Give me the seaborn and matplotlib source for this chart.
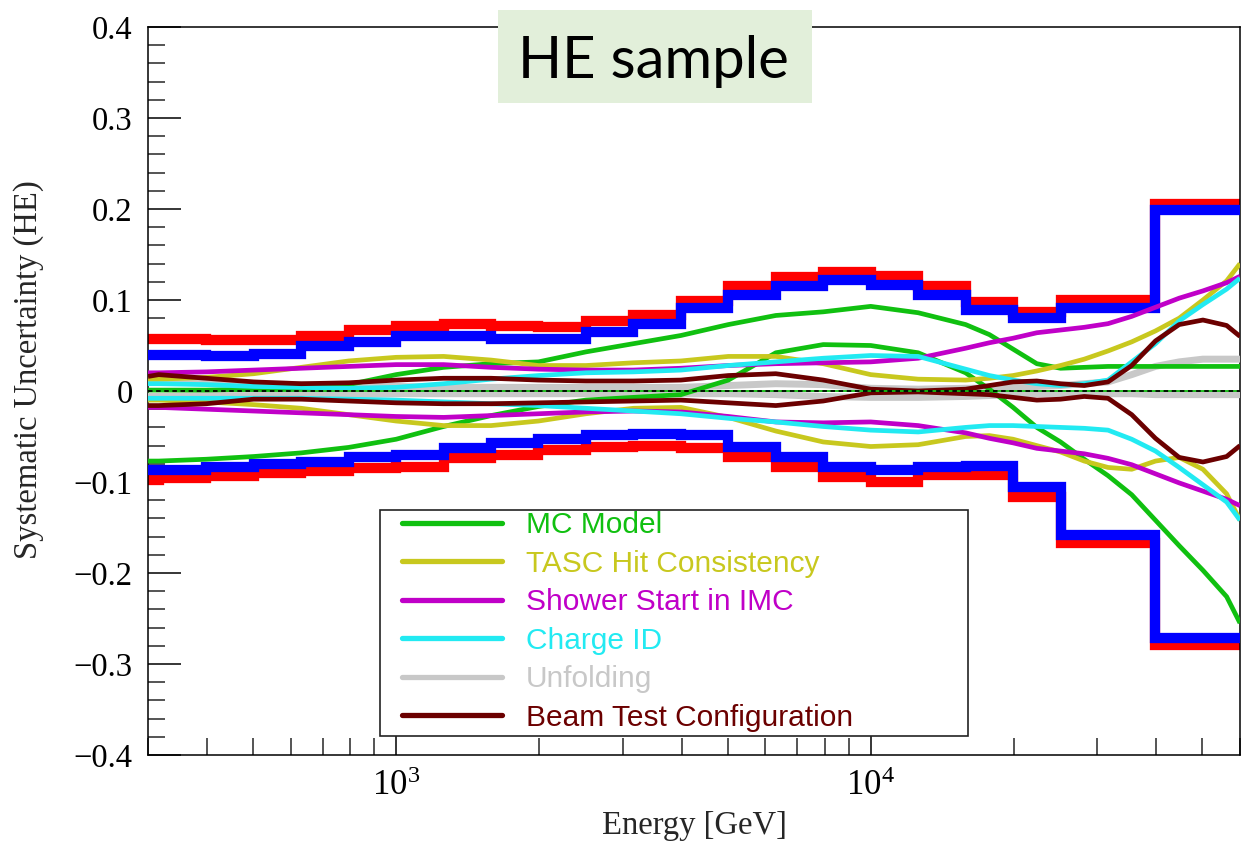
import matplotlib
matplotlib.use("Agg")
import matplotlib.pyplot as plt
from matplotlib.patches import Rectangle
from matplotlib.lines import Line2D
from matplotlib.ticker import LogLocator, MultipleLocator, FuncFormatter, NullFormatter
import seaborn as sns

# ---------------- data ----------------
# Binned total systematic bands (step histograms)
BIN_EDGES = [300, 316, 398, 501, 631, 794, 1000, 1259, 1585, 1995, 2512, 3162,
             3981, 5012, 6310, 7943, 10000, 12589, 15849, 19953, 25119, 39811, 63096]
RED_UPPER = [0.057, 0.057, 0.056, 0.056, 0.060, 0.067, 0.071, 0.074, 0.071, 0.070, 0.077,
             0.084, 0.099, 0.115, 0.125, 0.131, 0.126, 0.115, 0.098, 0.087, 0.100, 0.205]
BLUE_UPPER = [0.040, 0.040, 0.039, 0.041, 0.049, 0.054, 0.060, 0.060, 0.057, 0.057, 0.065,
              0.074, 0.091, 0.105, 0.115, 0.122, 0.116, 0.105, 0.089, 0.080, 0.091, 0.199]
BLUE_LOWER = [-0.087, -0.087, -0.083, -0.080, -0.078, -0.073, -0.070, -0.063, -0.057, -0.053, -0.048,
              -0.047, -0.048, -0.061, -0.072, -0.083, -0.087, -0.083, -0.082, -0.105, -0.158, -0.271]
RED_LOWER = [-0.098, -0.096, -0.093, -0.090, -0.088, -0.085, -0.083, -0.074, -0.070, -0.065, -0.062,
             -0.060, -0.063, -0.073, -0.084, -0.095, -0.100, -0.092, -0.092, -0.116, -0.167, -0.279]

# Smooth systematic curves sampled at these energies [GeV]
ENERGY = [300, 316, 398, 501, 631, 794, 1000, 1259, 1585, 1995, 2512, 3162, 3981, 5012,
          6310, 7943, 10000, 12589, 15849, 17783, 19953, 22387, 25119, 28184, 31623,
          35481, 39811, 44668, 50119, 56234, 60000]

MC_UP = [0.001, 0.001, 0.001, 0.002, 0.003, 0.007, 0.018, 0.026, 0.030, 0.032, 0.043, 0.052,
         0.061, 0.073, 0.083, 0.087, 0.093, 0.086, 0.073, 0.062, 0.046, 0.030, 0.025, 0.026,
         0.027, 0.027, 0.027, 0.027, 0.027, 0.027, 0.027]
MC_LO = [-0.077, -0.077, -0.075, -0.072, -0.068, -0.062, -0.053, -0.039, -0.027, -0.017, -0.010,
         -0.007, -0.004, 0.012, 0.042, 0.051, 0.050, 0.042, 0.020, 0.002, -0.018, -0.040, -0.056,
         -0.075, -0.093, -0.114, -0.142, -0.170, -0.197, -0.226, -0.255]
TASC_UP = [0.013, 0.013, 0.015, 0.019, 0.026, 0.033, 0.037, 0.038, 0.034, 0.028, 0.028, 0.031,
           0.033, 0.038, 0.038, 0.030, 0.018, 0.013, 0.012, 0.014, 0.017, 0.022, 0.028, 0.035,
           0.044, 0.054, 0.066, 0.080, 0.100, 0.121, 0.140]
TASC_LO = [-0.010, -0.010, -0.012, -0.015, -0.019, -0.026, -0.033, -0.038, -0.038, -0.033, -0.025,
           -0.019, -0.018, -0.029, -0.044, -0.056, -0.061, -0.059, -0.050, -0.049, -0.053, -0.060,
           -0.067, -0.077, -0.084, -0.086, -0.077, -0.073, -0.086, -0.113, -0.142]
SHOWER_UP = [0.020, 0.020, 0.021, 0.023, 0.025, 0.027, 0.029, 0.029, 0.026, 0.024, 0.023, 0.023,
             0.025, 0.028, 0.030, 0.031, 0.032, 0.036, 0.047, 0.053, 0.058, 0.064, 0.067, 0.070,
             0.074, 0.082, 0.092, 0.102, 0.110, 0.119, 0.126]
SHOWER_LO = [-0.018, -0.018, -0.020, -0.022, -0.024, -0.026, -0.028, -0.029, -0.027, -0.025, -0.023,
             -0.022, -0.023, -0.028, -0.034, -0.035, -0.034, -0.038, -0.046, -0.052, -0.057, -0.063,
             -0.066, -0.069, -0.074, -0.081, -0.091, -0.101, -0.110, -0.119, -0.126]
CHARGE_UP = [0.008, 0.008, 0.007, 0.005, 0.004, 0.003, 0.004, 0.008, 0.013, 0.017, 0.020, 0.021,
             0.023, 0.028, 0.032, 0.036, 0.039, 0.038, 0.024, 0.017, 0.012, 0.008, 0.006, 0.008,
             0.012, 0.032, 0.052, 0.077, 0.095, 0.112, 0.124]
CHARGE_LO = [-0.008, -0.008, -0.008, -0.008, -0.008, -0.009, -0.010, -0.012, -0.014, -0.016, -0.019,
             -0.022, -0.025, -0.030, -0.034, -0.039, -0.043, -0.045, -0.040, -0.038, -0.038, -0.039,
             -0.040, -0.041, -0.043, -0.053, -0.066, -0.084, -0.103, -0.122, -0.142]
UNFOLD_UP = [0.010, 0.010, 0.009, 0.008, 0.007, 0.006, 0.005, 0.004, 0.004, 0.004, 0.004, 0.004,
             0.004, 0.006, 0.008, 0.007, 0.003, 0.002, 0.003, 0.003, 0.004, 0.005, 0.006, 0.008,
             0.010, 0.018, 0.027, 0.032, 0.035, 0.035, 0.035]
UNFOLD_LO = [-0.006, -0.006, -0.005, -0.005, -0.004, -0.004, -0.003, -0.003, -0.003, -0.003, -0.003,
             -0.003, -0.003, -0.003, -0.004, -0.006, -0.007, -0.007, -0.006, -0.005, -0.004, -0.003,
             -0.003, -0.003, -0.003, -0.003, -0.004, -0.004, -0.004, -0.004, -0.004]
BEAM_UP = [0.016, 0.018, 0.014, 0.010, 0.008, 0.009, 0.012, 0.014, 0.014, 0.012, 0.011, 0.011,
           0.012, 0.017, 0.019, 0.012, 0.002, 0.000, 0.002, 0.006, 0.010, 0.011, 0.008, 0.006,
           0.010, 0.028, 0.055, 0.073, 0.078, 0.072, 0.060]
BEAM_LO = [-0.016, -0.016, -0.014, -0.009, -0.009, -0.011, -0.013, -0.014, -0.014, -0.013, -0.012,
           -0.011, -0.010, -0.013, -0.016, -0.011, -0.002, -0.001, -0.003, -0.004, -0.007, -0.010,
           -0.009, -0.006, -0.008, -0.026, -0.052, -0.073, -0.078, -0.072, -0.060]

LEGEND_LABELS = ["MC Model", "TASC Hit Consistency", "Shower Start in IMC",
                 "Charge ID", "Unfolding", "Beam Test Configuration"]
Y_TICKS = [-0.4, -0.3, -0.2, -0.1, 0.0, 0.1, 0.2, 0.3, 0.4]

# ---------------- style ----------------
C_RED, C_BLUE = "#ff0000", "#0000ff"
C_MC, C_TASC, C_SHOWER = "#10c010", "#c8c81e", "#c000c8"
C_CHARGE, C_UNFOLD, C_BEAM = "#22eaf2", "#c8c8c8", "#6b0000"

sns.set_theme(style="ticks")
plt.rcParams["font.family"] = ["Liberation Serif", "DejaVu Serif"]
plt.rcParams["mathtext.fontset"] = "custom"
plt.rcParams["mathtext.rm"] = "Liberation Serif"
plt.rcParams["mathtext.it"] = "Liberation Serif:italic"
plt.rcParams["mathtext.default"] = "regular"

fig = plt.figure(figsize=(12.43, 8.5), dpi=100)
fig.patch.set_facecolor("white")
ax = fig.add_axes([148 / 1243, 95 / 850, 1092 / 1243, 728 / 850])
ax.set_facecolor("white")
ax.set_xscale("log")

STEP_LW = 7.4
CURVE_LW = 3.4

def step(vals, color, z):
    sns.lineplot(x=BIN_EDGES, y=list(vals) + [vals[-1]], ax=ax, color=color,
                 lw=STEP_LW, drawstyle="steps-post", estimator=None, sort=False,
                 legend=False, zorder=z, solid_joinstyle="miter")

step(RED_UPPER, C_RED, 2)
step(RED_LOWER, C_RED, 2)
step(BLUE_UPPER, C_BLUE, 3)
step(BLUE_LOWER, C_BLUE, 3)

def curve(vals, color, lw, z):
    sns.lineplot(x=ENERGY, y=vals, ax=ax, color=color, lw=lw, estimator=None,
                 sort=False, legend=False, zorder=z,
                 solid_joinstyle="round", solid_capstyle="butt")

curve(UNFOLD_UP, C_UNFOLD, 5.0, 4)
curve(UNFOLD_LO, C_UNFOLD, 5.0, 4)
for up, lo, col in [(MC_UP, MC_LO, C_MC), (TASC_UP, TASC_LO, C_TASC),
                    (SHOWER_UP, SHOWER_LO, C_SHOWER), (CHARGE_UP, CHARGE_LO, C_CHARGE),
                    (BEAM_UP, BEAM_LO, C_BEAM)]:
    curve(up, col, CURVE_LW, 5)
    curve(lo, col, CURVE_LW, 5)

# zero reference line
ax.axhline(0, color=C_MC, lw=1.3, zorder=6)
ax.axhline(0, color="black", lw=1.3, ls=(0, (2.5, 2)), zorder=7)

ax.set_xlim(300, 60000)
ax.set_ylim(-0.4, 0.4)

# axes / ticks
for s in ax.spines.values():
    s.set_linewidth(1.1)
    s.set_color("black")
ax.yaxis.set_major_locator(MultipleLocator(0.1))
ax.yaxis.set_minor_locator(MultipleLocator(0.02))
ax.set_yticks(Y_TICKS)
ax.yaxis.set_major_formatter(FuncFormatter(
    lambda v, p: "0" if abs(v) < 1e-9 else f"{v:.1f}".replace("-", "\u2212")))
ax.xaxis.set_major_locator(LogLocator(base=10, numticks=10))
ax.xaxis.set_minor_locator(LogLocator(base=10, subs=range(2, 10), numticks=20))
ax.xaxis.set_minor_formatter(NullFormatter())
ax.tick_params(axis="both", which="major", direction="in", length=24, width=1.1,
               labelsize=23.5, colors="black")
ax.tick_params(axis="both", which="minor", direction="in", length=12, width=1.1)
ax.tick_params(axis="y", which="both", left=True, right=False, pad=11)
ax.tick_params(axis="x", which="both", bottom=True, top=False, pad=11)
ax.tick_params(axis="x", which="major", labelsize=25)

ax.set_xlabel("Energy [GeV]", fontsize=23.5, labelpad=5)
ax.set_ylabel("Systematic Uncertainty (HE)", fontsize=23.5)
ax.yaxis.set_label_coords(-0.095, 0.53)

# legend with its own frame
frame = Rectangle((232 / 1092, 19 / 728), 588 / 1092, 226 / 728, transform=ax.transAxes,
                  facecolor="white", edgecolor="#222222", lw=1.2, zorder=8)
ax.add_patch(frame)
handles = [Line2D([0], [0], color=c, lw=3.8)
           for c in [C_MC, C_TASC, C_SHOWER, C_CHARGE, C_UNFOLD, C_BEAM]]
leg = ax.legend(handles, LEGEND_LABELS, loc="center left",
                bbox_to_anchor=((402 - 148) / 1092, (755 - 621.5) / 728),
                frameon=False, prop={"family": "Liberation Sans", "size": 21.5},
                handlelength=3.35, handletextpad=0.8, labelspacing=0.35,
                borderpad=0, borderaxespad=0, labelcolor="linecolor")
leg.set_zorder(9)

# "HE sample" box
fig.add_artist(Rectangle((498 / 1243, 1 - 103 / 850), 314 / 1243, 93 / 850,
                         transform=fig.transFigure, facecolor="#e2efda",
                         edgecolor="none", zorder=10))
t = fig.text(653.5 / 1243, 1 - 78 / 850, "HE sample", ha="center", va="baseline",
             fontsize=40, family=["Lato", "DejaVu Sans"], color="black", zorder=11)
fig.canvas.draw()
w = t.get_window_extent().width
t.set_fontsize(40 * 271 / w)

fig.savefig("out.png", dpi=100, facecolor="white")
